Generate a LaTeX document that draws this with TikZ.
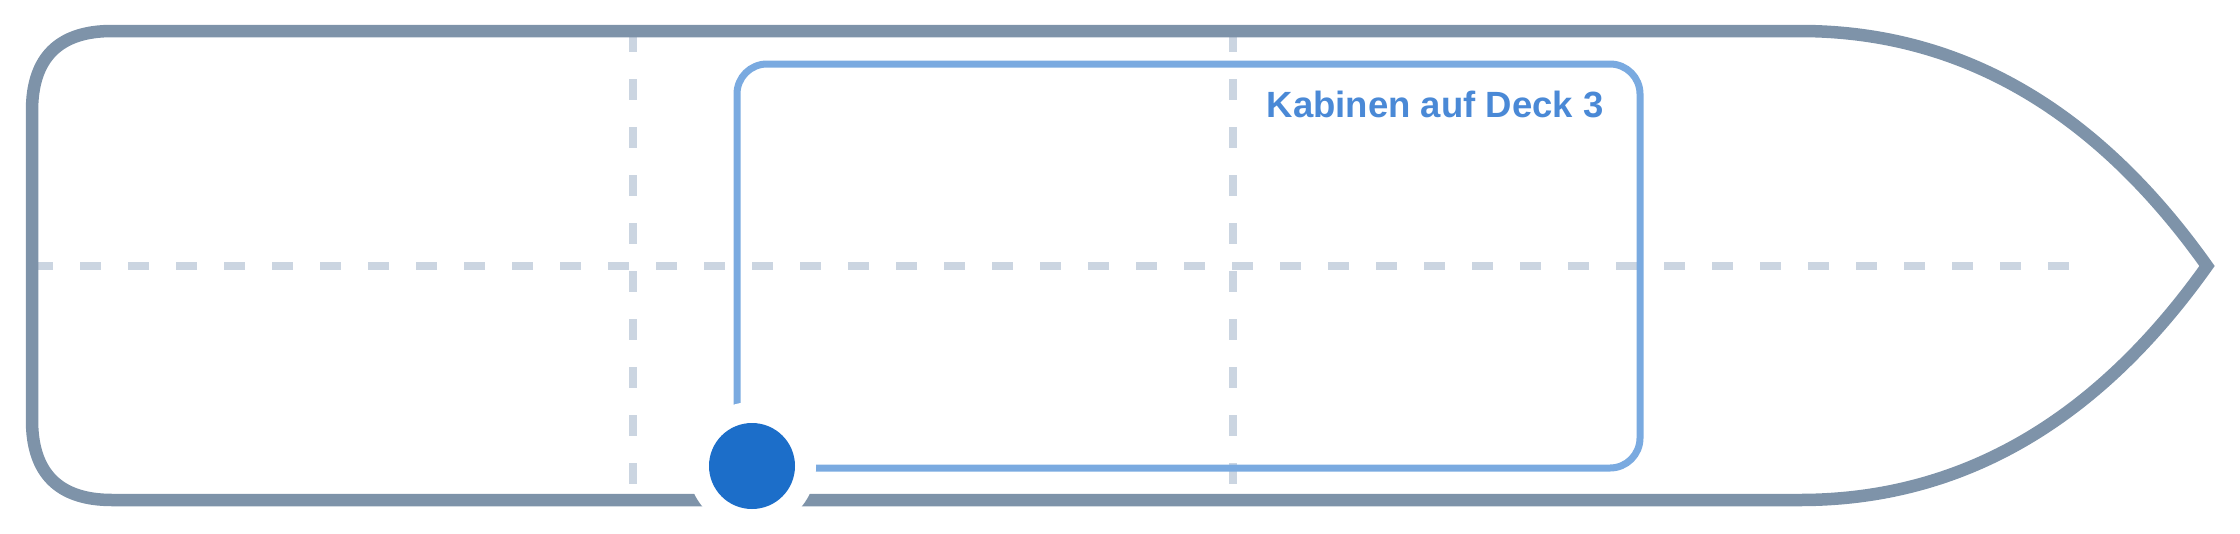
\documentclass[tikz,border=0pt]{standalone}
\usepackage{fontspec}
\setmainfont{Liberation Sans}
\definecolor{hullgray}{HTML}{7E93A9}
\definecolor{gridgray}{HTML}{CBD5E1}
\definecolor{deckblue}{HTML}{7AAAE0}
\definecolor{labelblue}{HTML}{4A89D6}
\definecolor{markblue}{HTML}{1C6EC9}
\begin{document}
\begin{tikzpicture}[x=1pt,y=-1pt,
    hull/.style={draw=hullgray, line width=12.5pt},
    gridline/.style={draw=gridgray, line width=8pt, dash pattern=on 21pt off 27pt},
    deckbox/.style={draw=deckblue, line width=7pt, rounded corners=30pt, inner sep=0pt,
      minimum width=903pt, minimum height=404pt},
    halo/.style={circle, fill=white, inner sep=0pt, minimum size=128pt},
    marker/.style={circle, fill=markblue, inner sep=0pt, minimum size=86pt}]
  \useasboundingbox (0,0) rectangle (2240,533);

  % Parameters
  \def\top{31}     % upper hull line
  \def\bot{500}    % lower hull line
  \def\mid{266}    % keel line

  % Grid
  \draw[gridline] (32,\mid) -- (2080,\mid);
  \foreach \x in {633,1233} {
    \draw[gridline] (\x,\top) -- (\x,\bot);
  }

  % Hull
  \coordinate (bow) at (2207,\mid);
  \draw[hull] (1800,\top) -- (112,\top)
    .. controls (58.7,\top) and (32,57.7) .. (32,111) -- (32,420)
    .. controls (32,473.3) and (58.7,\bot) .. (112,\bot) -- (1800,\bot)
    .. controls (1960,\bot) and (2095.7,422.7) .. (bow)
    .. controls (2095.7,109.3) and (1960,\top) .. cycle;

  % Deck 3
  \node[deckbox] (deck) at (1188.5,\mid) {};
  \node[anchor=base east, text=labelblue, font=\bfseries\fontsize{36.5}{40}\selectfont]
    (label) at (1607,117) {Kabinen auf Deck 3};

  % Position marker
  \node[halo] (ring) at (752,466) {};
  \node[marker] (dot) at (ring) {};
\end{tikzpicture}
\end{document}
